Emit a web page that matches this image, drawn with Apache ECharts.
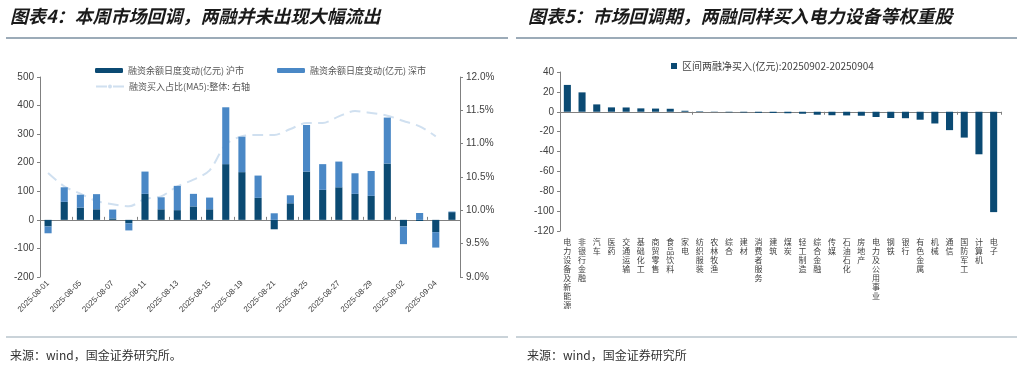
<!DOCTYPE html>
<html>
<head>
<meta charset="utf-8">
<script src="https://cdn.jsdelivr.net/npm/echarts@6/dist/echarts.min.js"></script>
<style>html,body{margin:0;padding:0;background:#fff;}#c{width:1024px;height:365px;}</style>
</head>
<body>
<div id="c"></div>
<script>
// ---- Left chart data ----
const dates = ['2025-08-01','2025-08-04','2025-08-05','2025-08-06','2025-08-07','2025-08-08',
  '2025-08-11','2025-08-12','2025-08-13','2025-08-14','2025-08-15',
  '2025-08-18','2025-08-19','2025-08-20','2025-08-21','2025-08-22',
  '2025-08-25','2025-08-26','2025-08-27','2025-08-28','2025-08-29',
  '2025-09-01','2025-09-02','2025-09-03','2025-09-04','2025-09-05'];
const shMarket = [-23,63,43,37,5,-12,91,37,34,47,37,195,167,77,-33,58,169,105,114,91,84,197,-23,-4,-43,27];
const szMarket = [-24,51,45,53,31,-25,78,42,85,44,41,199,124,78,23,28,163,90,90,72,87,161,-62,24,-54,2];
const ma5Ratio = [10.56,10.36,10.25,10.14,10.09,10.06,10.17,10.21,10.36,10.46,10.60,10.99,11.11,11.13,11.13,11.22,11.31,11.31,11.41,11.49,11.46,11.42,11.34,11.26,11.11,null];

// ---- Right chart data ----
const industries = ['电力设备及新能源','非银行金融','汽车','医药','交通运输','基础化工','商贸零售','食品饮料','家电','纺织服装',
  '农林牧渔','综合','建材','消费者服务','建筑','煤炭','轻工制造','综合金融','传媒','石油石化',
  '房地产','电力及公用事业','钢铁','银行','有色金属','机械','通信','国防军工','计算机','电子'];
const netBuy = [27,19.5,7.4,4.4,4.3,3.4,3.2,3.0,1.0,0.5,-0.3,-0.5,-0.7,-1.0,-1.2,-1.5,-2.0,-3.0,-3.5,-3.7,
  -4.0,-5.3,-6.3,-6.5,-8.0,-11.8,-18.5,-26,-42.8,-101];

const DARK = '#0b4a73';
const LIGHT = '#4a88c6';
const AX = '#808080';
const LBL = '#404040';
const NUMF = 'Arial, "Liberation Sans", sans-serif';
const CJK = '"Noto Sans CJK SC", sans-serif';

const chart = echarts.init(document.getElementById('c'), null, {renderer: 'canvas'});

const option = {
  animation: false,
  backgroundColor: '#fff',
  graphic: [
    {type:'text', left: 10, top: 7, style:{text:'图表4：本周市场回调，两融并未出现大幅流出', font:'italic bold 18px "Noto Sans CJK SC"', fill:'#1a1a1a'}},
    {type:'text', left: 528, top: 7, style:{text:'图表5：市场回调期，两融同样买入电力设备等权重股', font:'italic bold 18px "Noto Sans CJK SC"', fill:'#1a1a1a'}},
    {type:'line', shape:{x1:6,y1:38,x2:508,y2:38}, style:{stroke:'#7b8fa1', lineWidth:1.5}},
    {type:'line', shape:{x1:516,y1:38,x2:1017,y2:38}, style:{stroke:'#7b8fa1', lineWidth:1.5}},
    {type:'line', shape:{x1:6,y1:337,x2:508,y2:337}, style:{stroke:'#b9c4cd', lineWidth:1.5}},
    {type:'line', shape:{x1:516,y1:337,x2:1017,y2:337}, style:{stroke:'#b9c4cd', lineWidth:1.5}},
    {type:'text', left: 10, top: 349, style:{text:'来源：wind，国金证券研究所。', font:'12px "Noto Sans CJK SC"', fill:'#333'}},
    {type:'text', left: 527, top: 349, style:{text:'来源：wind，国金证券研究所', font:'12px "Noto Sans CJK SC"', fill:'#333'}}
  ],
  legend: [
    {left: 90, top: 61, itemWidth: 28, itemHeight: 5, itemGap: 4, data:['融资余额日度变动(亿元) 沪市'], textStyle:{fontSize:9, color:'#555', fontFamily: CJK}},
    {left: 272, top: 61, itemWidth: 28, itemHeight: 5, data:['融资余额日度变动(亿元) 深市'], textStyle:{fontSize:9, color:'#555', fontFamily: CJK}},
    {left: 90, top: 77, itemWidth: 28, itemHeight: 5, data:['融资买入占比(MA5):整体: 右轴'], textStyle:{fontSize:9, color:'#555', fontFamily: CJK}},
    {left: 666, top: 56, itemWidth: 6, itemHeight: 6, icon:'rect', data:['区间两融净买入(亿元):20250902-20250904'], textStyle:{fontSize:10, color:'#444', fontFamily: CJK}}
  ],
  grid: [
    {left: 40, right: 564, top: 77, bottom: 88},
    {left: 560, right: 23, top: 72, bottom: 134}
  ],
  xAxis: [
    {type:'category', gridIndex:0, data: dates, position:'bottom',
     axisLine:{show:false, onZero:false}, axisTick:{show:false},
     axisLabel:{interval:1, rotate:45, fontSize:8, color:LBL, fontFamily:NUMF, margin:5}},
    {type:'category', gridIndex:0, data: dates,
     axisLine:{show:true, onZero:true, lineStyle:{color:AX, width:1}},
     axisTick:{show:true, interval:1, length:3, lineStyle:{color:AX}}, axisLabel:{show:false}},
    {type:'category', gridIndex:1, data: industries, position:'bottom',
     axisLine:{show:false, onZero:false}, axisTick:{show:false},
     axisLabel:{interval:0, fontSize:8, lineHeight:9, color:LBL, fontFamily:CJK, margin:6, verticalAlign:'top',
       formatter: v => v.split('').join('\n')}},
    {type:'category', gridIndex:1, data: industries,
     axisLine:{show:true, onZero:true, lineStyle:{color:AX, width:1}},
     axisTick:{show:true, inside:true, length:3, lineStyle:{color:AX}}, axisLabel:{show:false}}
  ],
  yAxis: [
    {type:'value', gridIndex:0, min:-200, max:500, interval:100, position:'left',
     axisLine:{show:true, lineStyle:{color:AX}}, axisTick:{show:true, length:3, lineStyle:{color:AX}},
     splitLine:{show:false}, axisLabel:{fontSize:10, color:LBL, fontFamily:NUMF, margin:6}},
    {type:'value', gridIndex:0, min:9, max:12, interval:0.5, position:'right',
     axisLine:{show:true, lineStyle:{color:AX}}, axisTick:{show:true, length:3, lineStyle:{color:AX}},
     splitLine:{show:false}, axisLabel:{fontSize:10, color:LBL, fontFamily:NUMF, margin:6,
       formatter: v => v.toFixed(1) + '%'}},
    {type:'value', gridIndex:1, min:-120, max:40, interval:20,
     axisLine:{show:true, lineStyle:{color:AX}}, axisTick:{show:true, length:3, lineStyle:{color:AX}},
     splitLine:{show:false}, axisLabel:{fontSize:10, color:LBL, fontFamily:NUMF, margin:6}}
  ],
  series: [
    {name:'融资余额日度变动(亿元) 沪市', type:'bar', xAxisIndex:0, yAxisIndex:0, stack:'m', data: shMarket,
     barWidth:'44%', itemStyle:{color:DARK}},
    {name:'融资余额日度变动(亿元) 深市', type:'bar', xAxisIndex:0, yAxisIndex:0, stack:'m', data: szMarket,
     barWidth:'44%', itemStyle:{color:LIGHT}},
    {name:'融资买入占比(MA5):整体: 右轴', type:'line', xAxisIndex:0, yAxisIndex:1, data: ma5Ratio,
     symbol:'none', smooth:0.3, z:1,
     lineStyle:{color:'#d0e0f0', width:2, type:[11,6]}, itemStyle:{color:'#d0e0f0'}},
    {name:'区间两融净买入(亿元):20250902-20250904', type:'bar', xAxisIndex:2, yAxisIndex:2, data: netBuy,
     barWidth:'48%', itemStyle:{color:DARK}}
  ]
};
chart.setOption(option);
</script>
</body>
</html>
